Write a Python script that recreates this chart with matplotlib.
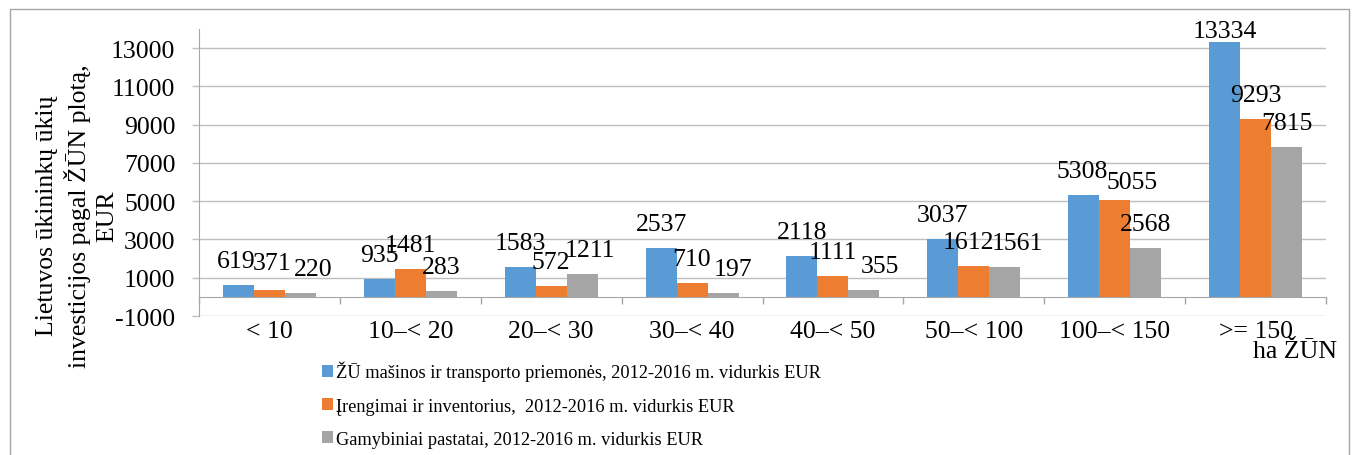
import matplotlib
matplotlib.use('Agg')
import matplotlib.pyplot as plt
from matplotlib.patches import Rectangle
import numpy as np

# ---------------- data ----------------
categories = ['< 10', '10–< 20', '20–< 30', '30–< 40', '40–< 50',
              '50–< 100', '100–< 150', '>= 150']
machinery = [619, 935, 1583, 2537, 2118, 3037, 5308, 13334]
equipment = [371, 1481, 572, 710, 1111, 1612, 5055, 9293]
buildings = [220, 283, 1211, 197, 355, 1561, 2568, 7815]
series_labels = ['ŽŪ mašinos ir transporto priemonės, 2012-2016 m. vidurkis EUR',
                 'Įrengimai ir inventorius,  2012-2016 m. vidurkis EUR',
                 'Gamybiniai pastatai, 2012-2016 m. vidurkis EUR']
y_ticks = [-1000, 1000, 3000, 5000, 7000, 9000, 11000, 13000]
y_label = 'Lietuvos ūkininkų ūkių\ninvesticijos pagal ŽŪN plotą,\nEUR'
x_unit = 'ha ŽŪN'

# ---------------- style ----------------
plt.rcParams['font.family'] = ['Liberation Serif', 'DejaVu Serif']
colors = ['#5B9BD5', '#ED7D31', '#A5A5A5']
grid_c = '#BFBFBF'
axis_c = '#A6A6A6'
fs = 18.5
W, H = 1353, 456

# label nudges in pixels (dx, dy up) to mimic overlap avoidance
nudges = {(0, 0): (-2, 0), (1, 0): (3, 3), (2, 0): (13, 0),
          (2, 2): (8, 0), (2, 3): (10, 0), (2, 4): (16, 0),
          (1, 5): (-5, 0), (2, 5): (13, 0),
          (0, 6): (-2, 0), (1, 6): (17, -6), (0, 7): (0, -13)}

fig = plt.figure(figsize=(W / 100, H / 100), dpi=100)
ax = fig.add_axes([199 / W, 1 - 317 / H, (1326 - 199) / W, (317 - 30) / H])

x = np.arange(len(categories)) + 0.5
bw = 0.22
series = [machinery, equipment, buildings]
handles = []
for si, vals in enumerate(series):
    xs = x + (si - 1) * bw
    b = ax.bar(xs, vals, width=bw, color=colors[si], zorder=3,
               label=series_labels[si])
    handles.append(b)
    for ci, v in enumerate(vals):
        dx, dy = nudges.get((si, ci), (0, 0))
        ax.annotate(str(v), (xs[ci], v), xytext=(dx, 24 + dy),
                    textcoords='offset pixels', ha='center', va='center',
                    fontsize=fs, zorder=5, annotation_clip=False)

ax.set_xlim(0, len(categories))
ax.set_ylim(-1000, 14000)
ax.set_yticks(y_ticks)
ax.set_yticklabels([str(t) for t in y_ticks], fontsize=fs)
ax.yaxis.grid(True, color=grid_c, lw=1)
ax.set_axisbelow(True)
ax.tick_params(axis='y', length=5, width=1, color=grid_c, pad=12)

for s in ['top', 'right']:
    ax.spines[s].set_visible(False)
ax.spines['left'].set_color(axis_c)
ax.spines['bottom'].set_position(('data', 0))
ax.spines['bottom'].set_color(axis_c)
ax.set_xticks(np.arange(len(categories) + 1))
ax.set_xticklabels([])
ax.tick_params(axis='x', length=5, width=1, color=axis_c, direction='out')

for ci, c in enumerate(categories):
    ax.annotate(c, (x[ci], -1000), xytext=(0, -21), textcoords='offset pixels',
                ha='center', va='baseline', fontsize=fs, annotation_clip=False)

fig.text(1337 / W, 1 - 358 / H, x_unit, ha='right', va='baseline', fontsize=fs)
fig.text(77 / W, 1 - 216 / H, y_label, rotation=90, ha='center', va='center',
         multialignment='center', fontsize=fs, linespacing=1.28)

fig.legend(handles=handles, labels=series_labels, loc='upper left',
           bbox_to_anchor=(322 / W, 1 - 362 / H), frameon=False,
           fontsize=13.2, handlelength=0.6, handleheight=0.6,
           handletextpad=0.15, labelspacing=0.88, borderpad=0,
           borderaxespad=0)

fig.add_artist(Rectangle((10 / W, -0.05), (1349 - 10) / W, 1 - 10 / H + 0.05,
                         transform=fig.transFigure, fill=False,
                         edgecolor=axis_c, lw=1, clip_on=False))

fig.savefig('out.png', dpi=100)
